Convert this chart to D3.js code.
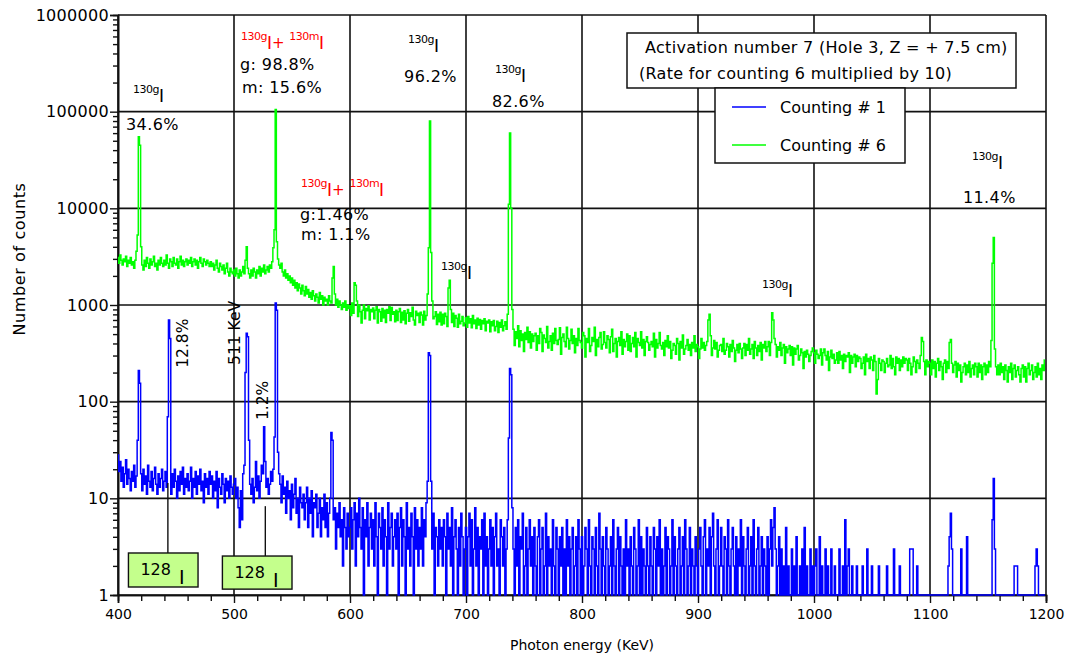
<!DOCTYPE html>
<html>
<head>
<meta charset="utf-8">
<script src="https://cdn.jsdelivr.net/npm/d3@7"></script>
<style>
  body { margin: 0; background: #fff; }
  svg { display: block; }
  text { font-family: "DejaVu Sans", "Liberation Sans", sans-serif; fill: #000; }
</style>
</head>
<body>
<svg id="chart" width="1083" height="657"></svg>
<script>
// Gamma spectrum, 1 keV bins starting at 400 keV (20 bins per row)
const energyStart = 400;
const energyStep = 1;

// Counting #1 (counts per bin)
const counting1 = [
  28,19,24,15,21,13,18,25,14,20,16,12,19,15,22,13,17,40,210,155,
  18,12,20,14,17,11,22,15,13,19,12,16,21,14,11,18,13,16,20,12,
  15,19,13,70,700,450,11,18,13,20,15,10,17,12,19,14,21,11,16,13,
  18,12,15,21,10,16,13,19,11,17,14,20,12,15,9,18,13,16,11,19,
  14,17,10,15,12,19,8,16,13,11,18,14,9,16,12,15,10,17,13,11,
  14,16,10,13,8,5,12,6,18,22,200,510,470,40,14,11,16,9,13,24,
  12,17,10,15,22,18,55,24,13,16,11,14,19,15,20,43,1050,880,30,18,
  14,9,17,11,13,7,15,10,12,6,14,8,11,16,7,10,5,13,9,8,
  11,6,9,13,5,10,7,12,4,9,8,11,5,7,10,4,8,6,11,5,
  9,4,7,10,48,40,6,8,3,7,5,9,4,6,2,8,5,3,7,4,
  5,8,3,6,9,2,7,4,10,5,3,8,1,6,4,9,2,5,7,3,
  6,2,9,4,1,7,5,3,8,2,6,4,1,9,3,5,7,2,4,6,
  3,7,1,5,8,2,6,4,1,9,3,5,2,7,4,1,8,3,6,2,
  5,3,8,2,6,4,9,15,320,300,15,3,7,1,5,4,2,6,3,5,
  2,6,4,1,7,3,5,2,8,1,4,6,3,1,5,2,7,4,1,3,
  5,1,4,7,2,6,1,3,8,2,5,1,4,3,6,1,7,2,4,1,
  3,6,2,5,1,4,7,2,3,1,6,4,2,5,1,3,6,42,220,190,
  8,3,1,5,2,6,1,4,3,7,1,2,5,1,3,6,2,4,1,5,
  2,1,4,6,1,3,5,1,2,7,1,4,2,3,1,6,2,1,5,3,
  1,4,2,5,1,3,1,6,2,4,1,3,5,1,2,4,1,6,3,1,
  4,1,2,5,3,1,6,2,1,4,3,1,5,2,1,7,3,1,4,2,
  1,5,3,1,2,4,1,6,2,1,3,5,1,4,2,1,3,1,6,2,
  3,1,4,2,1,5,3,1,2,6,1,4,1,3,2,1,5,2,1,4,
  2,1,5,3,1,4,2,6,1,3,1,2,5,1,4,3,1,2,6,1,
  4,2,1,3,5,1,2,4,1,6,3,1,2,5,1,3,2,1,4,2,
  1,3,5,2,1,4,6,1,3,2,5,1,4,7,2,1,3,6,1,2,
  5,2,1,4,3,1,6,2,1,3,5,2,1,4,1,3,2,6,1,4,
  2,1,3,5,1,2,4,1,6,2,1,3,5,1,2,4,1,3,2,1,
  4,1,3,6,2,5,8,3,1,2,4,1,3,1,2,1,5,1,2,1,
  1,3,1,2,1,4,1,1,2,1,3,1,5,1,2,1,1,3,1,2,
  1,2,3,1,1,4,1,2,1,1,3,1,2,1,1,3,1,1,2,1,
  1,1,3,1,1,2,1,6,1,2,3,1,1,2,1,1,1,2,1,1,
  1,1,2,1,1,1,3,1,1,1,2,1,1,1,1,1,2,1,1,1,
  1,1,1,2,1,1,1,1,1,3,1,1,1,1,2,1,1,1,1,1,
  1,1,1,3,3,3,1,1,1,2,1,1,1,1,1,1,1,1,1,1,
  1,1,1,1,1,1,1,1,1,1,1,1,1,1,1,1,2,4,7,3,
  1,1,1,1,1,1,1,3,1,1,1,1,4,1,1,1,1,1,1,1,
  1,1,1,1,1,1,1,1,1,1,1,1,1,1,6,16,3,1,1,1,
  1,1,1,1,1,1,1,1,1,1,1,1,1,2,2,2,1,1,1,1,
  1,1,1,1,1,1,1,1,1,1,1,2,3,2,1,1,1,1,1,1
];

// Counting #6 (rate multiplied by 10)
const counting6 = [
  3100,2700,3300,2900,2600,3000,2800,3200,2500,2900,2700,3100,2600,2800,2400,2900,3600,5300,55000,45000,
  4000,2600,2300,2900,2500,3100,2700,2400,3000,2600,2800,3200,2500,2700,2300,2900,2600,3100,2700,2500,
  2900,2600,3300,2700,2400,3000,2800,2500,3100,2700,2600,3000,2400,2800,3200,2600,2900,2500,2800,3000,
  2600,2900,2700,3100,2500,2800,3000,2600,2900,2400,2800,3100,2700,2500,3000,2800,2600,2900,2700,2500,
  2800,2500,2700,2300,2600,2900,2400,2200,2700,2500,2300,2600,2100,2400,2700,2200,2000,2400,2200,2100,
  2300,2000,2400,2100,1900,2300,2000,2200,2500,2100,2900,4000,2400,2100,1900,2300,2000,2400,2200,1900,
  2300,2100,2500,2000,2400,2200,2600,2100,2300,2500,2200,2600,2400,2800,3900,6000,105000,4500,3000,2600,
  2400,2700,2200,2000,2300,1900,2100,1800,2000,1700,1900,1600,1800,1500,1700,1400,1650,1500,1300,1600,
  1400,1250,1550,1300,1450,1200,1350,1150,1400,1250,1100,1300,1200,1050,1350,1150,1250,1000,1200,1100,
  1150,1000,1250,1100,1050,1900,2500,1300,1000,1150,950,1100,1000,900,1050,950,1100,880,1000,920,
  980,780,1050,820,1700,1600,1100,760,1000,850,650,880,1000,720,920,870,980,700,900,850,
  930,720,880,960,650,900,850,680,920,740,880,660,900,820,960,690,940,800,850,670,
  880,690,850,920,660,840,700,870,640,820,900,680,830,760,950,700,620,860,780,820,
  660,840,790,620,860,700,780,1300,3900,80000,3500,1100,720,760,850,630,800,670,840,620,
  800,640,820,760,600,1500,1800,900,660,820,600,780,730,590,800,640,680,760,610,650,
  740,590,760,650,720,580,780,640,700,570,730,620,710,560,690,640,720,540,680,650,
  700,530,670,610,690,540,600,680,520,660,590,700,540,610,670,560,800,11000,60000,10000,
  900,560,380,530,450,610,370,540,430,500,330,520,440,590,410,530,360,500,420,480,
  510,340,480,400,570,520,330,490,450,410,600,360,420,480,340,510,400,570,430,390,
  440,580,310,460,500,420,370,590,450,350,430,560,400,480,320,450,380,570,430,410,
  360,520,480,290,450,410,570,330,380,460,420,590,300,440,370,460,520,350,390,530,
  410,360,480,440,320,470,560,330,400,450,290,420,460,380,530,310,440,370,420,500,
  340,480,330,400,460,370,520,290,450,410,380,530,360,440,300,420,470,410,340,390,
  420,370,510,290,440,360,400,520,380,350,410,300,430,370,480,360,420,280,340,400,
  380,310,450,400,270,420,360,490,310,350,380,440,340,390,300,410,360,480,330,390,
  370,280,350,450,360,410,340,380,420,700,800,480,300,360,430,350,410,290,340,380,
  390,330,450,310,340,400,370,290,390,330,430,360,260,340,390,320,400,350,280,360,
  400,300,390,340,450,310,350,390,280,420,360,300,380,330,410,270,390,360,420,330,
  370,420,300,410,830,700,450,390,290,370,340,410,300,360,390,250,370,320,350,380,
  300,370,240,360,310,350,380,270,300,350,320,220,330,290,340,310,260,300,330,360,
  320,250,340,310,280,300,350,240,320,350,300,270,330,210,290,340,280,310,250,270,
  320,250,330,270,300,220,310,260,300,290,320,200,300,250,290,310,230,300,260,290,
  280,220,250,290,190,310,260,280,220,290,270,210,300,260,120,170,280,250,210,270,
  260,200,250,280,230,240,300,220,280,230,190,290,250,280,210,270,230,290,250,280,
  270,210,280,250,190,230,290,260,200,270,250,220,300,460,420,260,190,270,230,260,
  250,190,270,220,260,180,250,280,210,260,230,170,250,270,200,260,220,410,440,250,
  200,240,260,180,250,210,240,160,200,230,250,190,240,200,260,180,220,240,190,250,
  230,180,250,200,240,170,230,250,190,240,200,260,230,430,2700,5000,350,230,190,240,
  190,250,200,230,170,240,210,160,230,200,250,170,220,240,180,210,230,190,160,220,
  240,180,230,160,220,250,190,210,240,170,200,230,180,250,190,220,170,240,210,270
];

const xTicks = [400, 500, 600, 700, 800, 900, 1000, 1100, 1200];
const yTicks = [1, 10, 100, 1000, 10000, 100000, 1000000];
const seriesNames = ["Counting # 1", "Counting # 6"];
const seriesColors = ["#0000ff", "#00ff00"];
const titleLines = ["Activation number 7 (Hole 3, Z = + 7.5 cm)", "(Rate for counting 6 multiplied by 10)"];

// Isotope tags: energy (keV) and log10(count) of the text start
const isoTags = [
  { e: 412.9, lc: 5.19, mass: "130g" },
  { e: 650,   lc: 5.71, mass: "130g" },
  { e: 725,   lc: 5.40, mass: "130g" },
  { e: 678.4, lc: 3.36, mass: "130g" },
  { e: 955.2, lc: 3.18, mass: "130g" },
  { e: 1136.2, lc: 4.50, mass: "130g" }
];
const mixTags = [
  { e: 506, lc: 5.74 },
  { e: 557.8, lc: 4.22 }
];
const notes = [
  { e: 406.9, lc: 4.81, text: "34.6%" },
  { e: 505.2, lc: 5.43, text: "g: 98.8%" },
  { e: 506.9, lc: 5.19, text: "m: 15.6%" },
  { e: 556.9, lc: 3.88, text: "g:1.46%" },
  { e: 557.8, lc: 3.67, text: "m: 1.1%" },
  { e: 646.6, lc: 5.31, text: "96.2%" },
  { e: 722.4, lc: 5.05, text: "82.6%" },
  { e: 1128.4, lc: 4.06, text: "11.4%" }
];
const verticalNotes = [
  { e: 460.3, lc: 2.35, text: "12.8%" },
  { e: 505.2, lc: 2.38, text: "511 KeV" },
  { e: 529.3, lc: 1.81, text: "1.2%" }
];
// 128I lines: box extent in energy / counts, and the line energy it points to
const boxes128 = [
  { e0: 409, e1: 469, c0: 1.21, c1: 2.72, line: 443, lineTop: 14.4 },
  { e0: 490, e1: 550, c0: 1.15, c1: 2.53, line: 527, lineTop: 8.3 }
];

const svg = d3.select("#chart");
const plotLeft = 118, plotRight = 1046, plotTop = 15, plotBottom = 595;
const x = d3.scaleLinear().domain([400, 1200]).range([plotLeft, plotRight]);
const y = d3.scaleLog().domain([1, 1e6]).range([plotBottom, plotTop]);

// grid
const grid = svg.append("g").attr("stroke", "#111").attr("stroke-width", 1.6);
grid.selectAll("line.v").data(xTicks).join("line").attr("class", "v")
  .attr("x1", d => x(d)).attr("x2", d => x(d)).attr("y1", plotTop).attr("y2", plotBottom);
grid.selectAll("line.h").data(yTicks).join("line").attr("class", "h")
  .attr("x1", plotLeft).attr("x2", plotRight).attr("y1", d => y(d)).attr("y2", d => y(d));

// axes
const minorY = [];
for (let p = 1; p < 1e6; p *= 10) for (let k = 2; k <= 9; k++) minorY.push(p * k);
const minorX = d3.range(400, 1201, 20).filter(d => d % 100 !== 0);

const yAxis = svg.append("g").attr("transform", `translate(${plotLeft},0)`)
  .call(d3.axisLeft(y).tickValues(yTicks).tickFormat(d3.format("d")).tickSize(8).tickPadding(1));
svg.append("g").attr("transform", `translate(${plotLeft},0)`)
  .call(d3.axisLeft(y).tickValues(minorY).tickFormat("").tickSize(5));
const xAxis = svg.append("g").attr("transform", `translate(0,${plotBottom})`)
  .call(d3.axisBottom(x).tickValues(xTicks).tickFormat(d3.format("d")).tickSize(8).tickPadding(6));
svg.append("g").attr("transform", `translate(0,${plotBottom})`)
  .call(d3.axisBottom(x).tickValues(minorX).tickFormat("").tickSize(6));
svg.selectAll(".domain").attr("stroke", "#111").attr("stroke-width", 1.6);
svg.selectAll(".tick line").attr("stroke", "#111").attr("stroke-width", 1.4);
yAxis.selectAll("text").attr("font-size", 16).attr("letter-spacing", 0.3).attr("font-family", "DejaVu Sans");
xAxis.selectAll("text").attr("font-size", 14).attr("font-family", "DejaVu Sans");

svg.append("text").attr("x", x(800)).attr("y", 650).attr("text-anchor", "middle")
  .attr("font-size", 14).text("Photon energy (KeV)");
svg.append("text").attr("transform", "translate(25,259) rotate(-90)").attr("text-anchor", "middle")
  .attr("font-size", 16).attr("letter-spacing", 0.6).text("Number of counts");

// spectra
svg.append("clipPath").attr("id", "plotClip").append("rect")
  .attr("x", plotLeft).attr("y", plotTop).attr("width", plotRight - plotLeft).attr("height", plotBottom - plotTop + 1);
const line = d3.line()
  .x((d, i) => x(energyStart + energyStep * i))
  .y(d => y(Math.max(1, d)))
  .curve(d3.curveStep);
const plot = svg.append("g").attr("clip-path", "url(#plotClip)");
plot.append("path").datum(counting6).attr("fill", "none")
  .attr("stroke", seriesColors[1]).attr("stroke-width", 1.5).attr("d", line);
plot.append("path").datum(counting1).attr("fill", "none")
  .attr("stroke", seriesColors[0]).attr("stroke-width", 1.5).attr("d", line);

// annotations
const ann = svg.append("g");
function isoLabel(g, px, py, mass, color) {
  const t = g.append("text").attr("x", px).attr("y", py).style("fill", color);
  t.append("tspan").attr("font-size", 11).attr("letter-spacing", -0.5).text(mass);
  t.append("tspan").attr("font-family", "Liberation Sans").attr("font-size", 18).attr("dy", 9).text("I");
  return t;
}
isoTags.forEach(d => isoLabel(ann, x(d.e), y(10 ** d.lc), d.mass, "#000"));
mixTags.forEach(d => {
  const t = ann.append("text").attr("x", x(d.e)).attr("y", y(10 ** d.lc)).style("fill", "#ff0000");
  t.append("tspan").attr("font-size", 11).attr("letter-spacing", -0.5).text("130g");
  t.append("tspan").attr("font-family", "Liberation Sans").attr("font-size", 18).attr("dy", 9).text("I");
  t.append("tspan").attr("font-size", 15).attr("dy", -1).text("+ ");
  t.append("tspan").attr("font-size", 11).attr("dy", -8).attr("letter-spacing", -0.5).text("130m");
  t.append("tspan").attr("font-family", "Liberation Sans").attr("font-size", 18).attr("dy", 9).text("I");
});
notes.forEach(d => ann.append("text").attr("x", x(d.e)).attr("y", y(10 ** d.lc))
  .attr("font-size", 16).attr("letter-spacing", 0.4).text(d.text));
verticalNotes.forEach(d => ann.append("text")
  .attr("transform", `translate(${x(d.e)},${y(10 ** d.lc)}) rotate(-90)`)
  .attr("font-size", 15.5).text(d.text));

boxes128.forEach(b => {
  ann.append("line").attr("x1", x(b.line)).attr("x2", x(b.line))
    .attr("y1", y(b.c1)).attr("y2", y(b.lineTop)).attr("stroke", "#111").attr("stroke-width", 1.4);
  ann.append("rect").attr("x", x(b.e0)).attr("y", y(b.c1))
    .attr("width", x(b.e1) - x(b.e0)).attr("height", y(b.c0) - y(b.c1))
    .attr("fill", "#c4ff8c").attr("stroke", "#111").attr("stroke-width", 1.4);
  const t = ann.append("text").attr("x", x(b.e0) + 12).attr("y", y(b.c1) + 22);
  t.append("tspan").attr("font-size", 16).text("128");
  t.append("tspan").attr("font-family", "Liberation Sans").attr("font-size", 20).attr("dx", 8).attr("dy", 9).text("I");
});

// title and legend boxes
svg.append("rect").attr("x", 627).attr("y", 33).attr("width", 389).attr("height", 55)
  .attr("fill", "#fff").attr("stroke", "#111").attr("stroke-width", 1.5);
svg.append("text").attr("x", 645).attr("y", 53).attr("font-size", 16).attr("letter-spacing", 0.3).text(titleLines[0]);
svg.append("text").attr("x", 639).attr("y", 79).attr("font-size", 16).attr("letter-spacing", 0.3).text(titleLines[1]);

svg.append("rect").attr("x", 715).attr("y", 88).attr("width", 190).attr("height", 75)
  .attr("fill", "#fff").attr("stroke", "#111").attr("stroke-width", 1.5);
seriesNames.forEach((name, i) => {
  const ly = 107 + i * 38;
  svg.append("line").attr("x1", 732).attr("x2", 766).attr("y1", ly).attr("y2", ly)
    .attr("stroke", seriesColors[i]).attr("stroke-width", 1.5);
  svg.append("text").attr("x", 780).attr("y", ly + 6).attr("font-size", 16).text(name);
});
</script>
</body>
</html>
